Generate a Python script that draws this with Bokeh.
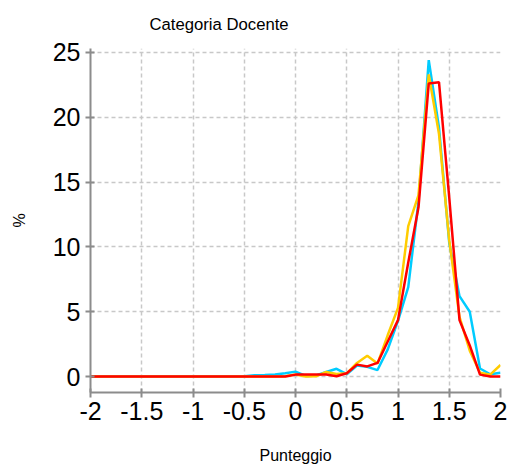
from bokeh.plotting import figure
from bokeh.models import Range1d, FixedTicker
from bokeh.embed import file_html
from bokeh.resources import INLINE

# Punteggio values (x), step 0.1 from -2 to 2
punteggio = [round(-2 + 0.1 * i, 1) for i in range(41)]

serie_ciano = [0, 0, 0, 0, 0, 0, 0, 0, 0, 0, 0, 0, 0, 0, 0, 0.03,
               0.1, 0.12, 0.15, 0.25, 0.38, 0.05, 0.08, 0.35, 0.6, 0.18,
               0.85, 0.75, 0.5, 2.1, 4.3, 6.9, 13.5, 24.4, 19.2, 10.3,
               6.2, 5.0, 0.62, 0.18, 0.3]
serie_gialla = [0, 0, 0, 0, 0, 0, 0, 0, 0, 0, 0, 0, 0, 0, 0, 0,
                0, 0, 0, 0.03, 0.15, 0.0, 0.02, 0.35, 0.2, 0.25,
                1.05, 1.6, 1.0, 3.2, 5.3, 11.6, 14.0, 23.3, 18.7, 10.5,
                4.6, 2.0, 0.3, 0.15, 0.9]
serie_rossa = [0, 0, 0, 0, 0, 0, 0, 0, 0, 0, 0, 0, 0, 0, 0, 0,
               0, 0, 0, 0, 0.15, 0.15, 0.15, 0.15, 0.02, 0.25,
               0.92, 0.78, 1.05, 2.7, 4.35, 8.8, 13.05, 22.6, 22.7, 13.8,
               4.35, 2.4, 0.15, 0.0, 0.0]

x_ticks = [-2, -1.5, -1, -0.5, 0, 0.5, 1, 1.5, 2]
y_ticks = [0, 5, 10, 15, 20, 25]

FONT = "Liberation Sans"

p = figure(width=508, height=470, output_backend="svg", toolbar_location=None,
           x_range=Range1d(-2, 2), y_range=Range1d(-1.23, 25.3),
           min_border_left=90, min_border_right=8, min_border_top=48,
           min_border_bottom=78, title="Categoria Docente")
p.outline_line_color = None
p.background_fill_color = "white"
p.border_fill_color = "white"

p.title.text_font = FONT
p.title.text_font_size = "16.7px"
p.title.text_font_style = "normal"
p.title.text_color = "black"
p.title.align = "left"
p.title.offset = 59
p.title.vertical_align = "top"
p.title.standoff = 26

p.line(punteggio, serie_ciano, line_color="#00CCFF", line_width=2.5)
p.line(punteggio, serie_gialla, line_color="#FFCC00", line_width=2.5)
p.line(punteggio, serie_rossa, line_color="#FF0000", line_width=2.5)

for ax in (p.xaxis[0], p.yaxis[0]):
    ax.axis_line_color = "#8c8c8c"
    ax.axis_line_width = 2
    ax.major_tick_line_color = "#8c8c8c"
    ax.major_tick_line_width = 2
    ax.major_tick_in = 4
    ax.major_tick_out = 5
    ax.minor_tick_line_color = None
    ax.major_label_text_font = FONT
    ax.major_label_text_font_size = "25px"
    ax.major_label_text_color = "black"
    ax.axis_label_text_font = FONT
    ax.axis_label_text_font_size = "16px"
    ax.axis_label_text_font_style = "normal"
    ax.axis_label_text_color = "black"

p.xaxis.ticker = FixedTicker(ticks=x_ticks)
p.yaxis.ticker = FixedTicker(ticks=y_ticks)
p.xaxis.major_label_overrides = {-2: "-2", -1.5: "-1.5", -1: "-1", -0.5: "-0.5",
                                 0: "0", 0.5: "0.5", 1: "1", 1.5: "1.5", 2: "2"}
p.xaxis.axis_label = "Punteggio"
p.yaxis.axis_label = "%"
p.xaxis.major_label_standoff = 4
p.yaxis.major_label_standoff = 5
p.xaxis.axis_label_standoff = 24
p.yaxis.axis_label_standoff = 22

for g in (p.xgrid[0], p.ygrid[0]):
    g.grid_line_color = "#c8c8c8"
    g.grid_line_dash = "4 3"
    g.grid_line_width = 1.5

open("out.html", "w").write(file_html(p, INLINE))
